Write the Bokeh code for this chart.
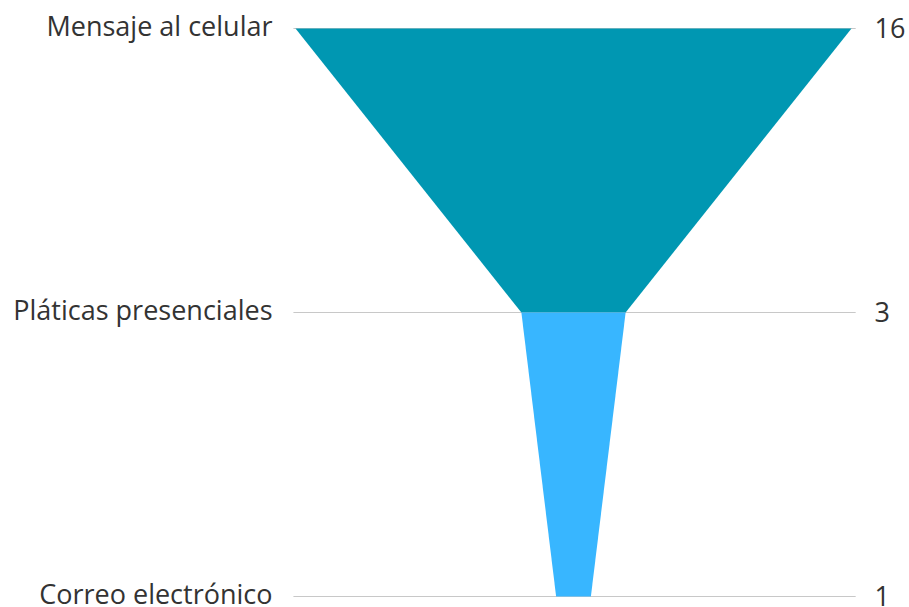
from bokeh.plotting import figure
from bokeh.models import Range1d, ColumnDataSource
from bokeh.core.properties import value
from bokeh.embed import file_html
from bokeh.resources import INLINE

stages = ["Mensaje al celular", "Pláticas presenciales", "Correo electrónico"]
counts = [16, 3, 1]
seg_colors = ["#0097B2", "#38B6FF"]

W, H = 909, 607
px_per_unit = 556 / 16
cx = 573
top, step = 28, 284
p = figure(width=W, height=H, output_backend="svg", toolbar_location=None,
           x_range=Range1d(-cx / px_per_unit, (W - cx) / px_per_unit),
           y_range=Range1d((H - top) / step, -top / step),
           min_border=0, outline_line_color=None)
p.axis.visible = False
p.grid.visible = False
p.background_fill_color = "white"
p.border_fill_color = "white"

half = max(counts) / 2
ypos = list(range(len(stages)))

# guide lines
p.segment(x0=[-half - 0.06] * len(stages), x1=[half + 0.12] * len(stages), y0=ypos, y1=ypos,
          line_color="#c8c8c8", line_width=1.2)

xs, ys = [], []
for k in range(len(counts) - 1):
    a, b = counts[k] / 2, counts[k + 1] / 2
    xs.append([-a, a, b, -b])
    ys.append([k, k, k + 1, k + 1])
p.patches(xs=xs, ys=ys, fill_color=seg_colors, line_color=None)

src = ColumnDataSource(dict(y=ypos, lab=stages, val=[str(c) for c in counts],
                            xl=[-half] * len(stages), xr=[half] * len(stages)))
p.text(x="xl", y="y", text="lab", source=src, x_offset=-23, y_offset=-3,
       text_align="right", text_baseline="middle", text_font=value("Open Sans"),
       text_font_size="27px", text_color="#333333")
p.text(x="xr", y="y", text="val", source=src, x_offset=23, y_offset=-1,
       text_align="left", text_baseline="middle", text_font=value("Open Sans"),
       text_font_size="27px", text_color="#333333")

open("out.html", "w").write(file_html(p, INLINE))
